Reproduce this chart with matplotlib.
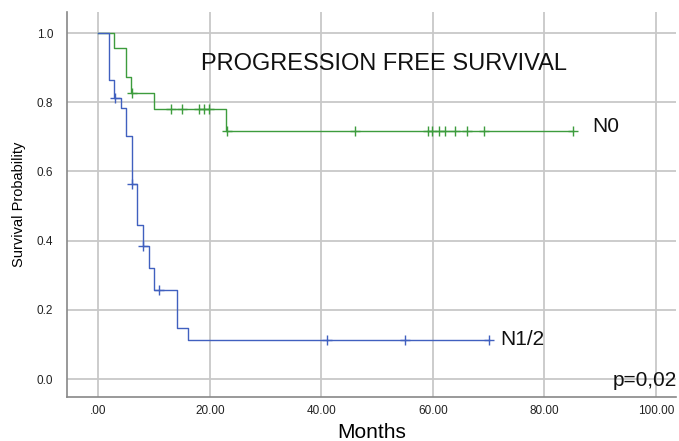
import matplotlib
matplotlib.use("Agg")
import matplotlib.pyplot as plt

plt.rcParams['font.family'] = ['Liberation Sans', 'DejaVu Sans']

# N0 group (step curve)
n0_times = [0, 2.87, 5.0, 5.85, 10.0, 22.9, 85.1]
n0_surv = [1.0, 0.958, 0.872, 0.828, 0.781, 0.716, 0.716]
n0_cens_t = [6.0, 13.0, 15.0, 18.0, 19.0, 19.9, 23.0, 46.1, 59.1, 59.9, 61.0, 62.1, 64.0, 66.1, 69.1, 85.1]
n0_cens_s = [0.828, 0.781, 0.781, 0.781, 0.781, 0.781, 0.716, 0.716, 0.716, 0.716, 0.716, 0.716, 0.716, 0.716, 0.716, 0.716]

# N1/2 group (step curve)
n12_times = [0, 1.85, 2.85, 4.1, 5.0, 6.0, 6.95, 8.0, 9.0, 10.0, 14.0, 16.0, 70.1]
n12_surv = [1.0, 0.865, 0.812, 0.783, 0.703, 0.563, 0.445, 0.385, 0.322, 0.257, 0.148, 0.113, 0.113]
n12_cens_t = [3.0, 6.0, 7.9, 10.9, 41.0, 55.0, 70.1]
n12_cens_s = [0.812, 0.563, 0.385, 0.257, 0.113, 0.113, 0.113]

x_ticks = [0, 20, 40, 60, 80, 100]
x_tick_labels = ['.00', '20.00', '40.00', '60.00', '80.00', '100.00']
y_ticks = [0.0, 0.2, 0.4, 0.6, 0.8, 1.0]
y_tick_labels = ['0.0', '0.2', '0.4', '0.6', '0.8', '1.0']

green = '#3d9c3d'
blue = '#4060bf'

fig = plt.figure(figsize=(6.79, 4.41), dpi=100)
ax = fig.add_axes([67/679, 44/441, (676-67)/679, 385/441])

ax.step(n0_times, n0_surv, where='post', color=green, lw=1.0, zorder=3)
ax.plot(n0_cens_t, n0_cens_s, ls='none', marker='+', ms=7, mew=1.0, color=green, zorder=3)
ax.step(n12_times, n12_surv, where='post', color=blue, lw=1.0, zorder=3)
ax.plot(n12_cens_t, n12_cens_s, ls='none', marker='+', ms=7, mew=1.0, color=blue, zorder=3)

ax.set_xlim(-5.65, 103.6)
ax.set_ylim(-0.052, 1.061)
ax.set_xticks(x_ticks)
ax.set_xticklabels(x_tick_labels, fontsize=8.5)
ax.set_yticks(y_ticks)
ax.set_yticklabels(y_tick_labels, fontsize=8.5)
ax.tick_params(axis='both', length=0, colors='#222222')
ax.tick_params(axis='x', pad=6)
ax.tick_params(axis='y', pad=10)
ax.grid(True, color='#c8c8c8', lw=1.3, zorder=0)
ax.set_axisbelow(True)
for s in ['top', 'right']:
    ax.spines[s].set_visible(False)
for s in ['left', 'bottom']:
    ax.spines[s].set_color('#888888')
    ax.spines[s].set_linewidth(1.2)

ax.set_xlabel('Months', fontsize=15, labelpad=4)
ax.set_ylabel('Survival Probability', fontsize=10.5, labelpad=8)

ax.text(51.2, 0.912, 'PROGRESSION FREE SURVIVAL', fontsize=17, ha='center', va='center', color='#111111')
ax.text(88.5, 0.731, 'N0', fontsize=15, ha='left', va='center', color='#111111')
ax.text(72.0, 0.113, 'N1/2', fontsize=15, ha='left', va='center', color='#111111')
ax.text(103.7, -0.004, 'p=0,02', fontsize=15, ha='right', va='center', color='#111111')

fig.savefig('out.png', dpi=100)
